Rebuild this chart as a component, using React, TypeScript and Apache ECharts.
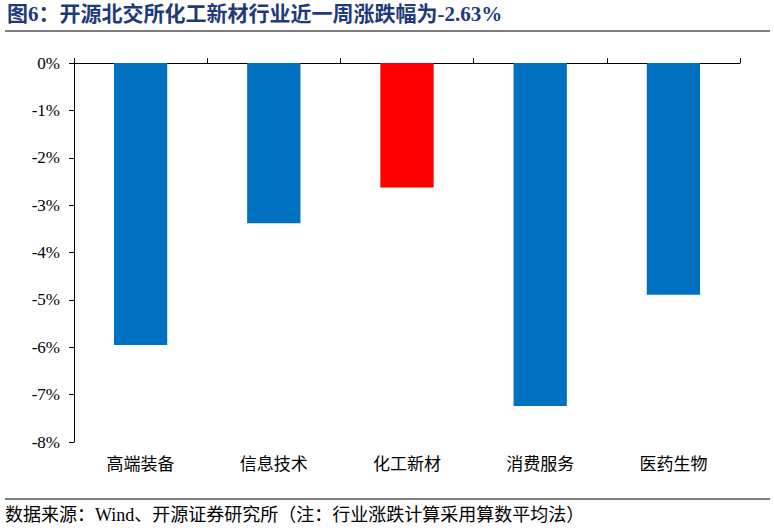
import React, { useEffect, useRef } from "react";
import * as echarts from "echarts";

const categories = ["高端装备", "信息技术", "化工新材", "消费服务", "医药生物"];
const weeklyChange = [-5.95, -3.38, -2.63, -7.24, -4.89];
const barColors = ["#0070C0", "#0070C0", "#FF0000", "#0070C0", "#0070C0"];

const titleText = "图6：开源北交所化工新材行业近一周涨跌幅为-2.63%";
const sourceText = "数据来源：Wind、开源证券研究所（注：行业涨跌计算采用算数平均法）";

const SERIF = '"Times New Roman", "Liberation Serif", "Noto Sans CJK SC", serif';

export default function App() {
  const ref = useRef<HTMLDivElement>(null);

  useEffect(() => {
    if (!ref.current) return;
    const chart = echarts.init(ref.current, null, { renderer: "svg" });
    chart.setOption({
      animation: false,
      backgroundColor: "#ffffff",
      grid: { left: 74, right: 34, top: 63, bottom: 88 },
      xAxis: [
        {
          type: "category",
          data: categories,
          position: "bottom",
          axisLine: { show: false },
          axisTick: { show: false },
          axisLabel: {
            color: "#000",
            fontSize: 17,
            fontFamily: SERIF,
            margin: 14,
          },
        },
        {
          type: "category",
          data: categories,
          position: "top",
          axisLine: { show: true, lineStyle: { color: "#000", width: 1 } },
          axisTick: { show: true, length: 5, lineStyle: { color: "#000" } },
          axisLabel: { show: false },
        },
      ],
      yAxis: {
        type: "value",
        min: -8,
        max: 0,
        interval: 1,
        axisLine: { show: true, lineStyle: { color: "#000", width: 1 } },
        axisTick: { show: true, length: 5, lineStyle: { color: "#000" } },
        splitLine: { show: false },
        axisLabel: {
          color: "#000",
          fontSize: 17,
          fontFamily: SERIF,
          margin: 14,
          formatter: (v: number) => `${v}%`,
        },
      },
      series: [
        {
          type: "bar",
          xAxisIndex: 0,
          barWidth: "40%",
          data: weeklyChange.map((v, i) => ({
            value: v,
            itemStyle: { color: barColors[i] },
          })),
        },
      ],
      graphic: [
        {
          type: "text",
          left: 7,
          top: 3,
          style: {
            text: titleText,
            fill: "#1F3A7A",
            fontSize: 21,
            fontWeight: "bold",
            fontFamily: SERIF,
          },
        },
        {
          type: "line",
          shape: { x1: 5, y1: 31, x2: 770, y2: 31 },
          style: { stroke: "#7F7F7F", lineWidth: 2 },
        },
        {
          type: "line",
          shape: { x1: 5, y1: 499, x2: 770, y2: 499 },
          style: { stroke: "#7F7F7F", lineWidth: 2 },
        },
        {
          type: "text",
          left: 5,
          top: 506,
          style: {
            text: sourceText,
            fill: "#000",
            fontSize: 18,
            fontFamily: SERIF,
          },
        },
      ],
    });
    return () => chart.dispose();
  }, []);

  return (
    <div
      ref={ref}
      style={{ position: "fixed", left: 0, top: 0, width: 774, height: 530 }}
    />
  );
}
